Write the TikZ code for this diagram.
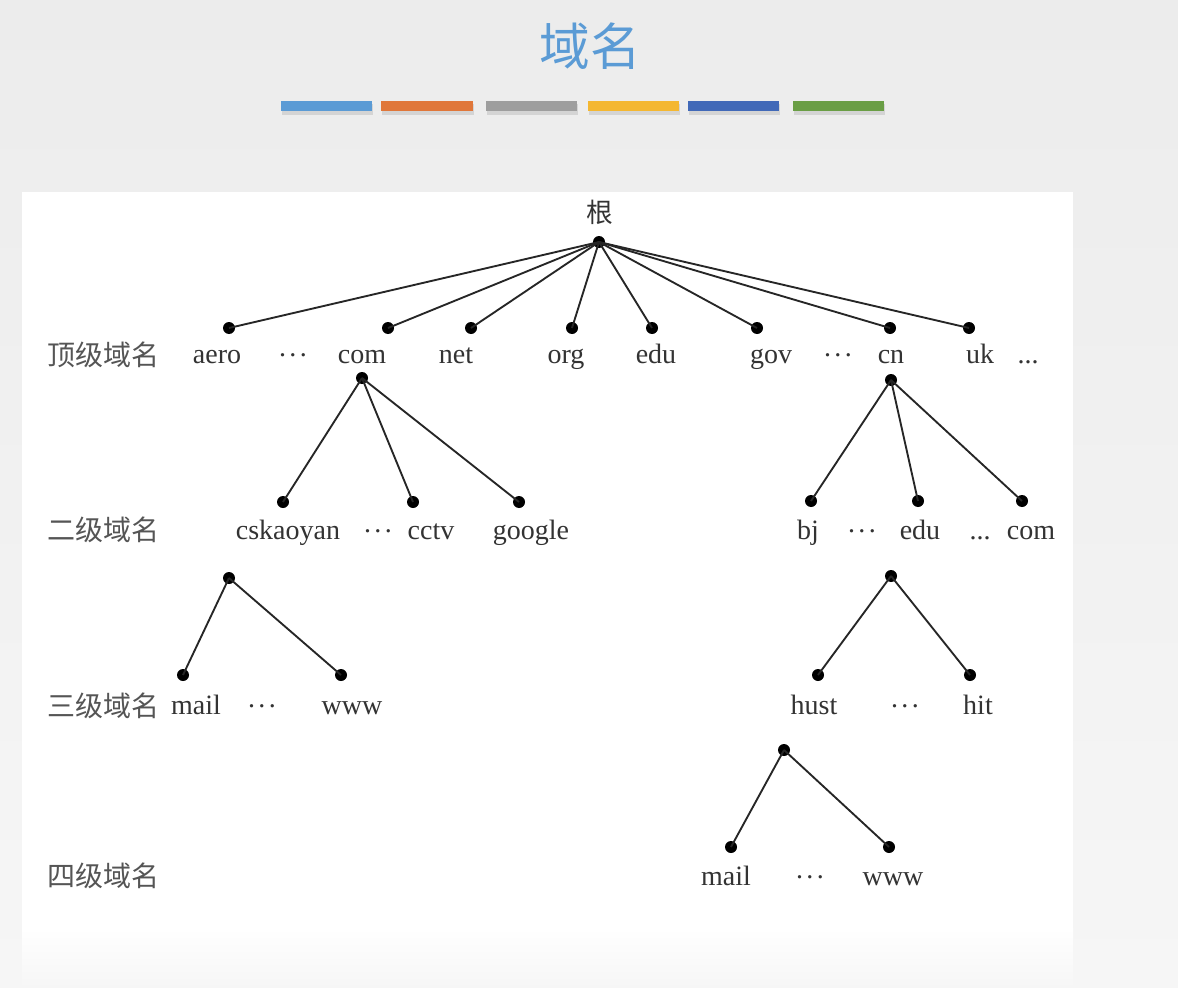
\documentclass[tikz,border=0pt]{standalone}
\usepackage{fontspec}
\setmainfont{Liberation Serif}
\newfontfamily\cjk{Noto Sans CJK SC}
\definecolor{bgtop}{HTML}{ECECEC}
\definecolor{bgbot}{HTML}{F6F6F6}
\definecolor{titleblue}{HTML}{5B9BD5}
\definecolor{barA}{HTML}{5B9BD5}
\definecolor{barB}{HTML}{E0773A}
\definecolor{barC}{HTML}{9E9E9E}
\definecolor{barD}{HTML}{F4B731}
\definecolor{barE}{HTML}{4169B8}
\definecolor{barF}{HTML}{6A9E45}
\definecolor{txt}{HTML}{333333}
\definecolor{cjkgray}{HTML}{555555}
\newcommand{\mdots}{\raisebox{0.22em}{.\kern0.12em.\kern0.12em.}}
\tikzset{
  dot/.style={circle,fill=black,inner sep=0pt,minimum size=9pt},
  lbl/.style={inner sep=0pt,anchor=base,text=txt,font=\fontsize{21}{24}\selectfont},
  lvl/.style={inner sep=0pt,text=cjkgray,font=\cjk\fontsize{21}{24}\selectfont},
  edge/.style={draw=black!85,line width=1.4pt},
}
\begin{document}
\begin{tikzpicture}[x=0.75pt,y=-0.75pt]
\useasboundingbox (0,0) rectangle (1178,988);
% background
\shade[top color=bgtop,bottom color=bgbot] (0,0) rectangle (1178,988);
\fill[white] (22,192) rectangle (1073,928);
\shade[top color=white,bottom color=bgbot] (22,928) rectangle (1073,988);
% title
\node[text=titleblue,font=\cjk\fontsize{38}{44}\selectfont,inner sep=0pt] (title) at (590,46) {域名};
% bars with shadows
\foreach \a/\b/\c in {281/372/barA,381/473/barB,486/577/barC,588/679/barD,688/779/barE,793/884/barF}{
  \fill[black,opacity=0.10] (\a+1,104) rectangle (\b+1,115);
  \fill[\c] (\a,101) rectangle (\b,111);
}
% level labels
\node[lvl] (l1) at (103,355) {顶级域名};
\node[lvl] (l2) at (103,530) {二级域名};
\node[lvl] (l3) at (103,706) {三级域名};
\node[lvl] (l4) at (103,876) {四级域名};
% root
\node[inner sep=0pt,text=txt,font=\cjk\fontsize{20}{24}\selectfont] (rootl) at (600,212) {根};
\node[dot] (root) at (599,242) {};
% top level
\node[dot] (daero) at (229,328) {};
\node[dot] (dcom) at (388,328) {};
\node[dot] (dnet) at (471,328) {};
\node[dot] (dorg) at (572,328) {};
\node[dot] (dedu) at (652,328) {};
\node[dot] (dgov) at (757,328) {};
\node[dot] (dcn) at (890,328) {};
\node[dot] (duk) at (969,328) {};
\node[lbl] (taero) at (217,363) {aero};
\node[lbl] (te1) at (293,363) {\mdots};
\node[lbl] (tcom) at (362,363) {com};
\node[lbl] (tnet) at (456,363) {net};
\node[lbl] (torg) at (566,363) {org};
\node[lbl] (tedu) at (656,363) {edu};
\node[lbl] (tgov) at (771,363) {gov};
\node[lbl] (te2) at (838,363) {\mdots};
\node[lbl] (tcn) at (891,363) {cn};
\node[lbl] (tuk) at (980,363) {uk};
\node[lbl] (te3) at (1028,363) {...};
\foreach \n in {daero,dcom,dnet,dorg,dedu,dgov,dcn,duk}
  \draw[edge] (root.center) -- (\n.center);
% com subtree
\node[dot] (pcom) at (362,378) {};
\node[dot] (dcsk) at (283,502) {};
\node[dot] (dcctv) at (413,502) {};
\node[dot] (dgoog) at (519,502) {};
\node[lbl] (tcsk) at (288,539) {cskaoyan};
\node[lbl] (te4) at (378,539) {\mdots};
\node[lbl] (tcctv) at (431,539) {cctv};
\node[lbl] (tgoog) at (531,539) {google};
\foreach \n in {dcsk,dcctv,dgoog}
  \draw[edge] (pcom.center) -- (\n.center);
% cskaoyan subtree
\node[dot] (pcsk) at (229,578) {};
\node[dot] (dmail1) at (183,675) {};
\node[dot] (dwww1) at (341,675) {};
\node[lbl] (tmail1) at (196,714) {mail};
\node[lbl] (te5) at (262,714) {\mdots};
\node[lbl] (twww1) at (352,714) {www};
\foreach \n in {dmail1,dwww1}
  \draw[edge] (pcsk.center) -- (\n.center);
% cn subtree
\node[dot] (pcn) at (891,380) {};
\node[dot] (dbj) at (811,501) {};
\node[dot] (dedu2) at (918,501) {};
\node[dot] (dcom2) at (1022,501) {};
\node[lbl] (tbj) at (808,539) {bj};
\node[lbl] (te6) at (862,539) {\mdots};
\node[lbl] (tedu2) at (920,539) {edu};
\node[lbl] (te7) at (980,539) {...};
\node[lbl] (tcom2) at (1031,539) {com};
\foreach \n in {dbj,dedu2,dcom2}
  \draw[edge] (pcn.center) -- (\n.center);
% edu subtree
\node[dot] (pedu) at (891,576) {};
\node[dot] (dhust) at (818,675) {};
\node[dot] (dhit) at (970,675) {};
\node[lbl] (thust) at (814,714) {hust};
\node[lbl] (te8) at (905,714) {\mdots};
\node[lbl] (thit) at (978,714) {hit};
\foreach \n in {dhust,dhit}
  \draw[edge] (pedu.center) -- (\n.center);
% hust subtree
\node[dot] (phust) at (784,750) {};
\node[dot] (dmail2) at (731,847) {};
\node[dot] (dwww2) at (889,847) {};
\node[lbl] (tmail2) at (726,885) {mail};
\node[lbl] (te9) at (810,885) {\mdots};
\node[lbl] (twww2) at (893,885) {www};
\foreach \n in {dmail2,dwww2}
  \draw[edge] (phust.center) -- (\n.center);
\end{tikzpicture}
\end{document}
